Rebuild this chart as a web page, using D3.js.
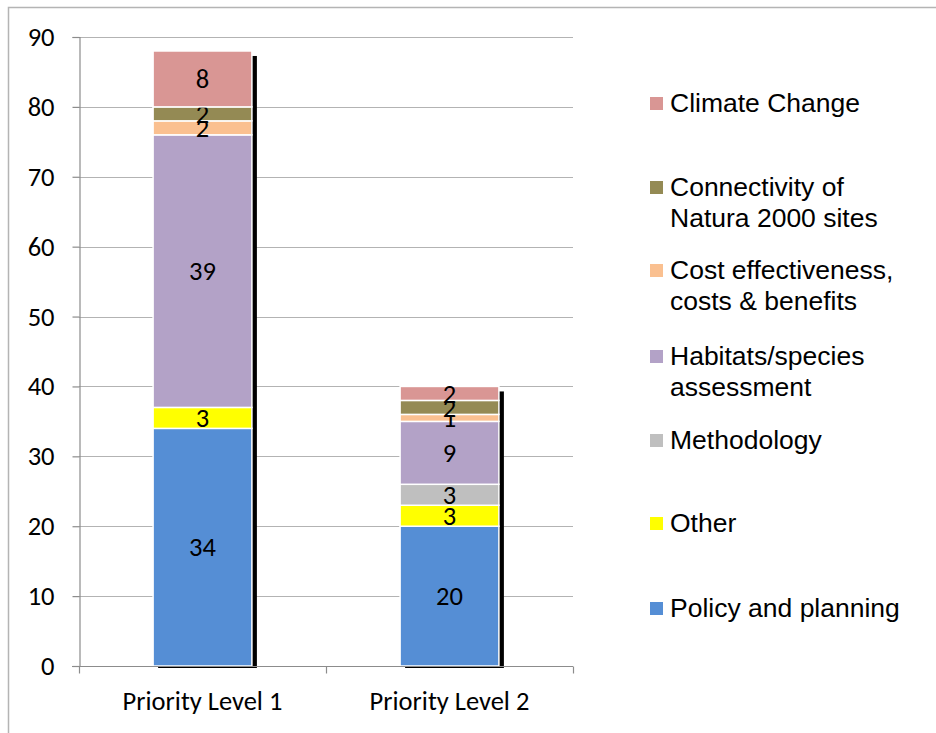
<!DOCTYPE html>
<html><head><meta charset="utf-8">
<script src="https://cdn.jsdelivr.net/npm/d3@7"></script>
<style>
html,body{margin:0;padding:0;background:#fff;overflow:hidden}
</style></head>
<body><svg id="chart" width="936" height="733"></svg>
<script>
const categories = ["Priority Level 1", "Priority Level 2"];
const seriesNames = ["Policy and planning", "Other", "Methodology", "Habitats/species assessment", "Cost effectiveness, costs & benefits", "Connectivity of Natura 2000 sites", "Climate Change"];
const legendLines = [["Policy and planning"], ["Other"], ["Methodology"], ["Habitats/species", "assessment"], ["Cost effectiveness,", "costs & benefits"], ["Connectivity of", "Natura 2000 sites"], ["Climate Change"]];
const policyValues = [34, 20];
const otherValues = [3, 3];
const methodologyValues = [0, 3];
const habitatsValues = [39, 9];
const costValues = [2, 1];
const connectivityValues = [2, 2];
const climateValues = [8, 2];
const seriesColors = ["#558ED5", "#FFFF00", "#BFBFBF", "#B3A2C7", "#FAC090", "#948A54", "#D99694"];
const yTicks = [0, 10, 20, 30, 40, 50, 60, 70, 80, 90];

const allValues = [policyValues, otherValues, methodologyValues, habitatsValues, costValues, connectivityValues, climateValues];
const table = categories.map((c, i) => {
  const o = {category: c};
  seriesNames.forEach((s, j) => o[s] = allValues[j][i]);
  return o;
});
const stacked = d3.stack().keys(seriesNames)(table);

const svg = d3.select("#chart");
const axisFont = "Carlito, Calibri, Lato, sans-serif";
const legendFont = "'Liberation Sans', Arial, sans-serif";

// outer border
svg.append("rect").attr("x", 8.5).attr("y", 7.5).attr("width", 1000).attr("height", 1000)
  .attr("fill", "none").attr("stroke", "#b4b4b4").attr("stroke-width", 1.5);

const plotLeft = 79, plotRight = 573, plotTop = 37, plotBottom = 666;
const y = d3.scaleLinear().domain([0, 90]).range([plotBottom, plotTop]);
const x = d3.scaleBand().domain(categories).range([plotLeft, plotRight]).paddingInner(0.6).paddingOuter(0.3);

// gridlines
svg.append("g").selectAll("line").data(yTicks.filter(t => t > 0)).join("line")
  .attr("x1", plotLeft).attr("x2", plotRight)
  .attr("y1", d => Math.round(y(d)) + 0.5).attr("y2", d => Math.round(y(d)) + 0.5)
  .attr("stroke", "#b3b3b3").attr("stroke-width", 1.2);

// y axis
const yAxis = svg.append("g").attr("transform", `translate(${plotLeft + 0.5},0)`)
  .call(d3.axisLeft(y).tickValues(yTicks).tickSize(7).tickPadding(18).tickFormat(d3.format("d")));
yAxis.select(".domain").attr("stroke", "#8c8c8c").attr("stroke-width", 1.2);
yAxis.selectAll(".tick line").attr("stroke", "#8c8c8c").attr("stroke-width", 1.2);
yAxis.selectAll(".tick text").attr("font-family", axisFont).attr("font-size", 26.5).attr("fill", "#000");

// shadows
const totals = categories.map((c, i) => d3.sum(allValues, v => v[i]));
svg.append("g").selectAll("rect").data(categories).join("rect")
  .attr("x", d => x(d) + 5).attr("y", (d, i) => y(totals[i]) + 5)
  .attr("width", x.bandwidth()).attr("height", (d, i) => y(0) - y(totals[i]) - 3)
  .attr("fill", "#000");

// bars
const layers = svg.append("g").selectAll("g").data(stacked).join("g")
  .attr("fill", (d, i) => seriesColors[i]);
layers.selectAll("rect").data(d => d.map((v, i) => ({v, cat: categories[i]}))).join("rect")
  .filter(d => d.v[1] - d.v[0] > 0)
  .attr("x", d => x(d.cat)).attr("y", d => y(d.v[1]))
  .attr("width", x.bandwidth()).attr("height", d => y(d.v[0]) - y(d.v[1]))
  .attr("stroke", "#fff").attr("stroke-width", 1.5);

// x axis
const xAxisG = svg.append("g").attr("transform", `translate(0,${plotBottom + 0.5})`);
xAxisG.append("line").attr("x1", plotLeft - 7).attr("x2", plotRight).attr("stroke", "#8c8c8c").attr("stroke-width", 1.2);
const xTickPos = [plotLeft, (plotLeft + plotRight) / 2, plotRight];
xAxisG.selectAll("line.tk").data(xTickPos).join("line").attr("class", "tk")
  .attr("x1", d => d + 0.5).attr("x2", d => d + 0.5).attr("y1", 0).attr("y2", 7)
  .attr("stroke", "#8c8c8c").attr("stroke-width", 1.2);
xAxisG.selectAll("text").data(categories).join("text")
  .attr("x", d => x(d) + x.bandwidth() / 2).attr("y", 43)
  .attr("text-anchor", "middle").attr("font-family", axisFont).attr("font-size", 26.5).attr("fill", "#000")
  .text(d => d);

// data labels
layers.each(function (layer) {
  d3.select(this).selectAll("text").data(layer.map((v, i) => ({v, cat: categories[i]})).filter(d => d.v[1] - d.v[0] > 0))
    .join("text")
    .attr("x", d => x(d.cat) + x.bandwidth() / 2)
    .attr("y", d => y((d.v[0] + d.v[1]) / 2))
    .attr("dy", "0.35em")
    .attr("text-anchor", "middle").attr("font-family", axisFont).attr("font-size", 26.5).attr("fill", "#000")
    .text(d => d.v[1] - d.v[0]);
});

// legend (top to bottom reversed order)
const legendY = [103, 187, 270, 356, 440, 523, 608];
const legendOrder = d3.range(seriesNames.length).reverse();
const lg = svg.append("g");
legendOrder.forEach((si, k) => {
  const g = lg.append("g").attr("transform", `translate(650,${legendY[k]})`);
  g.append("rect").attr("x", 0).attr("y", -6).attr("width", 13).attr("height", 13).attr("fill", seriesColors[si]);
  const t = g.append("text").attr("x", 20).attr("y", 0)
    .attr("font-family", legendFont).attr("font-size", 26.5).attr("fill", "#000");
  legendLines[si].forEach((ln, li) => {
    t.append("tspan").attr("x", 20).attr("dy", li === 0 ? "0.35em" : 31).text(ln);
  });
});
</script></body></html>
